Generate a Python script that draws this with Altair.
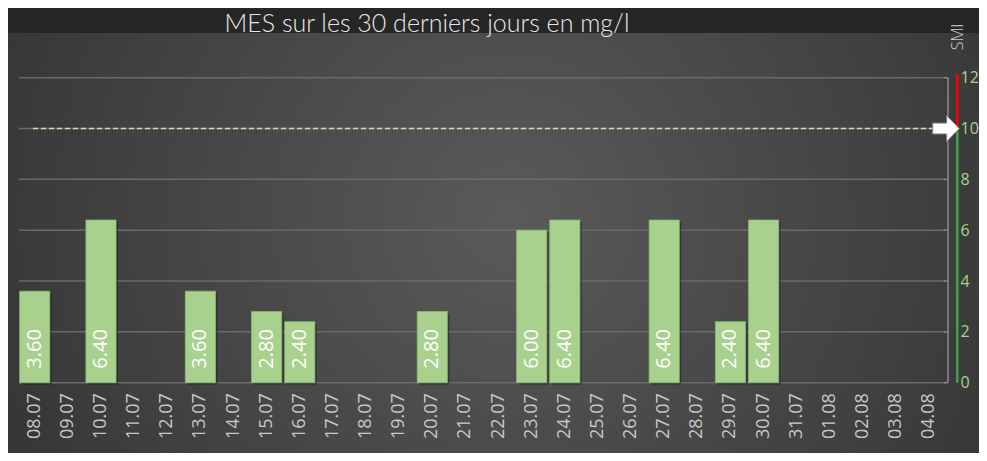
import altair as alt
import pandas as pd

dates = ["08.07", "09.07", "10.07", "11.07", "12.07", "13.07", "14.07", "15.07",
         "16.07", "17.07", "18.07", "19.07", "20.07", "21.07", "22.07", "23.07",
         "24.07", "25.07", "26.07", "27.07", "28.07", "29.07", "30.07", "31.07",
         "01.08", "02.08", "03.08", "04.08"]
values = [3.6, None, 6.4, None, None, 3.6, None, 2.8,
          2.4, None, None, None, 2.8, None, None, 6.0,
          6.4, None, None, 6.4, None, 2.4, 6.4, None,
          None, None, None, None]
y_ticks = [0, 2, 4, 6, 8, 10, 12]
smi_limit = 10
seg_start = [0, 10]
seg_end = [10, 12.15]
seg_color = ["#3fa34d", "#ff0000"]
title_text = "MES sur les 30 derniers jours en mg/l"
smi_label = "SMI"

W, H = 926, 305
FONT = "Open Sans"

df = pd.DataFrame({"date": dates, "v": values})
ticks_df = pd.DataFrame({"t": y_ticks})
seg_df = pd.DataFrame({"s": seg_start, "e": seg_end, "c": seg_color})
one = pd.DataFrame({"a": [0]})

yscale = alt.Scale(domain=[0, 12], nice=False)
xscale = alt.Scale(domain=dates, paddingInner=0.09, paddingOuter=0.02)

bg = alt.Chart(one).mark_rect(
    fill={
        "gradient": "radial",
        "x1": 0.51, "y1": 0.47, "r1": 0,
        "x2": 0.51, "y2": 0.47, "r2": 0.75,
        "stops": [{"offset": 0, "color": "#5a5a5a"},
                  {"offset": 1, "color": "#2a2a2a"}],
    }
).encode(x=alt.value(-11), x2=alt.value(970), y=alt.value(-44.7), y2=alt.value(380))

grid = alt.Chart(ticks_df).mark_rule(color="#6a6a6a", strokeWidth=1.5).encode(
    y=alt.Y("t:Q", scale=yscale), x=alt.value(0), x2=alt.value(W)
)

shadow = alt.Chart(df).transform_filter("datum.v != null").mark_bar(
    color="#1a1a1a", opacity=0.45, xOffset=2, yOffset=2
).encode(
    x=alt.X("date:N", sort=None, scale=xscale),
    y=alt.Y("v:Q", scale=yscale),
)

bars = alt.Chart(df).transform_filter("datum.v != null").mark_bar(
    color="#a9d18e", stroke="#8fb676", strokeWidth=0.8
).encode(
    x=alt.X("date:N", sort=None, scale=xscale,
            axis=alt.Axis(title=None, labelAngle=270, labelAlign="right",
                          labelBaseline="middle", labelPadding=10, domain=False,
                          ticks=False, labelColor="#c8c8c8", labelFontSize=18,
                          labelFont=FONT, grid=False, zindex=1)),
    y=alt.Y("v:Q", scale=yscale,
            axis=alt.Axis(orient="right", title=None, values=y_ticks, domain=False,
                          ticks=False, grid=False, labelColor="#a9d18e",
                          labelFontSize=16, labelFont=FONT, labelPadding=15,
                          zindex=1)),
)

labels = alt.Chart(df).transform_filter("datum.v != null").mark_text(
    angle=270, align="left", baseline="middle", color="white",
    fontSize=20, font=FONT, yOffset=-14
).encode(
    x=alt.X("date:N", sort=None, scale=xscale),
    y=alt.datum(0),
    text=alt.Text("v:Q", format=".2f"),
)

dash = alt.Chart(one).mark_rule(color="#c9e3a9", strokeWidth=1.5, strokeDash=[5, 3]).encode(
    y=alt.datum(smi_limit), x=alt.value(14), x2=alt.value(916)
)

axis_line = alt.Chart(one).mark_rule(color="#8a8a8a", strokeWidth=1.5).encode(
    y=alt.datum(0), y2=alt.datum(12), x=alt.value(929)
)

tick_marks = alt.Chart(ticks_df).mark_rule(color="#8a8a8a", strokeWidth=1.5).encode(
    y=alt.Y("t:Q", scale=yscale), x=alt.value(925), x2=alt.value(929)
)

segs = alt.Chart(seg_df).mark_rule(strokeWidth=2.5).encode(
    y=alt.Y("s:Q", scale=yscale), y2="e:Q", x=alt.value(938.3),
    color=alt.Color("c:N", scale=None),
)

arrow = alt.Chart(one).mark_point(
    shape="M-1,-0.41 L0.05,-0.41 L0.05,-0.98 L1,0 L0.05,0.98 L0.05,0.41 L-1,0.41 Z",
    size=708, filled=True, fill="white", stroke="#808080", strokeWidth=1, opacity=1
).encode(y=alt.datum(smi_limit), x=alt.value(927))

title = alt.Chart(one).mark_text(
    text=title_text, font="Lato", fontWeight=300, fontSize=25, color="#e8e8e8",
    align="center", baseline="alphabetic"
).encode(x=alt.value(408), y=alt.value(-45.7))

smi = alt.Chart(one).mark_text(
    text=smi_label, font=FONT, fontSize=16, fontWeight=300, color="#d0d0d0", angle=270,
    align="center", baseline="middle"
).encode(x=alt.value(939), y=alt.value(-40.7))

chart = alt.layer(
    bg, grid, shadow, bars, labels, dash, axis_line, tick_marks, segs, arrow, title, smi
).properties(
    width=W, height=H,
    autosize=alt.AutoSizeParams(type="none"),
    padding={"left": 11, "top": 69.7, "right": 34, "bottom": 70.3},
    background="#262626",
).configure_view(stroke=None)

chart.save("out.html", embed_options={"renderer": "svg", "actions": False})
